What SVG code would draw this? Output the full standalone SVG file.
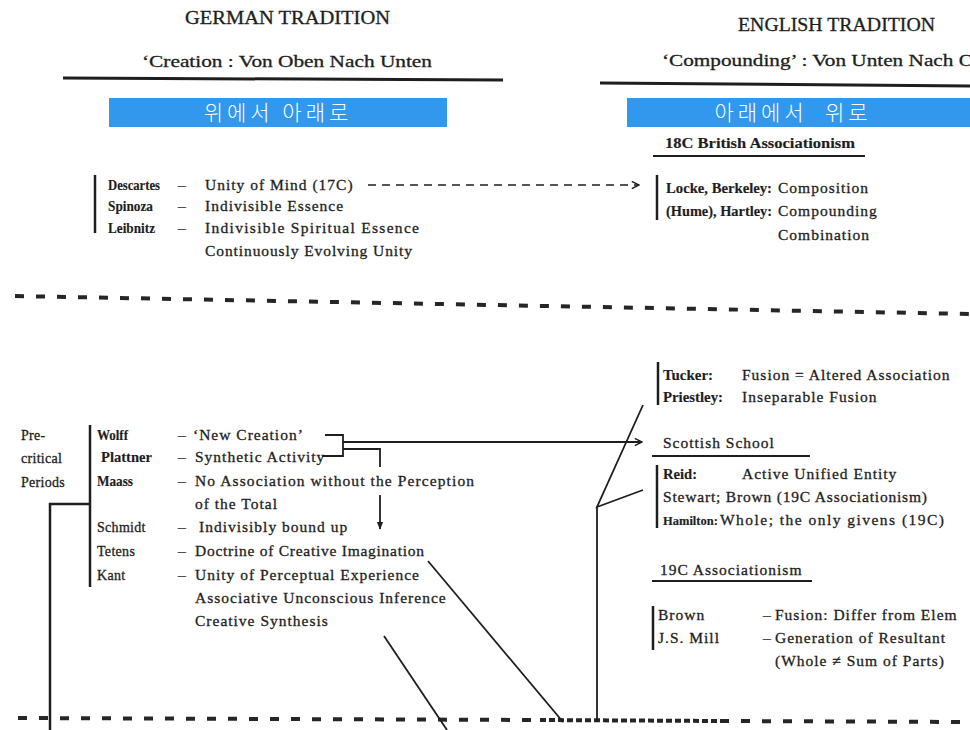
<svg xmlns="http://www.w3.org/2000/svg" width="970" height="730" viewBox="0 0 970 730">
  <defs>
    <style>
      .t{font-family:"Liberation Serif","Times New Roman",serif;fill:#1e1e1e;stroke:#1e1e1e;stroke-width:0.3px;font-size:15.5px;letter-spacing:1px}
      .n{font-weight:bold;font-size:14.5px;letter-spacing:0;stroke-width:0.15px}
      .h{font-size:19px;letter-spacing:0}
      .sub{font-size:17px;letter-spacing:0}
      .sm{font-size:14px;letter-spacing:0.3px}
      .ko{font-family:"Noto Sans CJK KR",sans-serif;font-size:21px;font-weight:300;fill:#fff;text-anchor:middle;letter-spacing:4px}
      .band{fill:#3298ee}
      .bar{stroke:#1e1e1e;stroke-width:2.5;fill:none}
      .ln{stroke:#1e1e1e;stroke-width:1.8;fill:none}
      .ul{stroke:#1e1e1e;stroke-width:2;fill:none}
      .rule{stroke:#1e1e1e;stroke-width:3;fill:none}
      .div{stroke:#262626;stroke-width:4;stroke-dasharray:9 12;fill:none}
      .divd{stroke:#262626;stroke-width:4;stroke-dasharray:6 3;fill:none}
      .dash{stroke:#1e1e1e;stroke-width:1.6;stroke-dasharray:8 6;fill:none}
    </style>
    <marker id="open" viewBox="0 0 10 10" refX="9" refY="5" markerWidth="9" markerHeight="9" markerUnits="userSpaceOnUse" orient="auto">
      <path d="M1,1 L9,5 L1,9" fill="none" stroke="#1e1e1e" stroke-width="1.6"/>
    </marker>
    <marker id="solid" viewBox="0 0 10 10" refX="9" refY="5" markerWidth="8" markerHeight="8" markerUnits="userSpaceOnUse" orient="auto">
      <path d="M0,1 L10,5 L0,9 Z" fill="#1e1e1e"/>
    </marker>
  </defs>
  <rect width="970" height="730" fill="#fff"/>

  <!-- column headings -->
  <g id="german-heading">
    <text class="t h" x="185" y="24" textLength="205" lengthAdjust="spacingAndGlyphs">GERMAN TRADITION</text>
    <text class="t sub" x="142" y="67" textLength="290" lengthAdjust="spacingAndGlyphs">‘Creation : Von Oben Nach Unten</text>
    <path class="rule" d="M63,78 L503,80"/>
    <rect class="band" x="109" y="98" width="338" height="29"/>
    <text class="ko" x="278" y="120">위에서 아래로</text>
  </g>
  <g id="english-heading">
    <text class="t h" x="738" y="31" textLength="197" lengthAdjust="spacingAndGlyphs">ENGLISH TRADITION</text>
    <text class="t sub" x="662" y="66" textLength="312" lengthAdjust="spacingAndGlyphs">‘Compounding’ : Von Unten Nach O</text>
    <path class="rule" d="M600,83 L970,86"/>
    <rect class="band" x="627" y="98" width="343" height="29"/>
    <text class="ko" x="793" y="120" xml:space="preserve">아래에서  위로</text>
  </g>

  <!-- 17C rationalists -->
  <g id="rationalists">
    <path class="bar" d="M95,175 V233"/>
    <text class="t n" x="108" y="190" textLength="52" lengthAdjust="spacingAndGlyphs">Descartes</text>
    <text class="t" x="178" y="190">–</text>
    <text class="t" x="205" y="190">Unity of Mind (17C)</text>
    <text class="t n" x="108" y="211" textLength="45" lengthAdjust="spacingAndGlyphs">Spinoza</text>
    <text class="t" x="178" y="211">–</text>
    <text class="t" x="205" y="211">Indivisible Essence</text>
    <text class="t n" x="108" y="233" textLength="47" lengthAdjust="spacingAndGlyphs">Leibnitz</text>
    <text class="t" x="178" y="233">–</text>
    <text class="t" x="205" y="233" textLength="215">Indivisible Spiritual Essence</text>
    <text class="t" x="205" y="256" textLength="208">Continuously Evolving Unity</text>
  </g>

  <!-- 18C British associationism -->
  <g id="british-associationism">
    <text class="t n" x="665" y="148" textLength="190" lengthAdjust="spacingAndGlyphs">18C British Associationism</text>
    <path class="ul" d="M653,156 H865"/>
    <path class="bar" d="M657,175 V220"/>
    <text class="t n" x="666" y="193" textLength="106" lengthAdjust="spacingAndGlyphs">Locke, Berkeley:</text>
    <text class="t" x="778" y="193">Composition</text>
    <text class="t n" x="666" y="216" textLength="106" lengthAdjust="spacingAndGlyphs">(Hume), Hartley:</text>
    <text class="t" x="778" y="216">Compounding</text>
    <text class="t" x="778" y="240">Combination</text>
  </g>

  <!-- Tucker / Priestley -->
  <g id="fusion">
    <path class="bar" d="M658,362 V405"/>
    <text class="t n" x="663" y="380" textLength="50" lengthAdjust="spacingAndGlyphs">Tucker:</text>
    <text class="t" x="742" y="380">Fusion = Altered Association</text>
    <text class="t n" x="663" y="402" textLength="60" lengthAdjust="spacingAndGlyphs">Priestley:</text>
    <text class="t" x="742" y="402">Inseparable Fusion</text>
  </g>

  <!-- Scottish school -->
  <g id="scottish-school">
    <text class="t" x="663" y="448">Scottish School</text>
    <path class="ul" d="M652,456 H810"/>
    <path class="bar" d="M657,465 V528"/>
    <text class="t n" x="663" y="479" textLength="34" lengthAdjust="spacingAndGlyphs">Reid:</text>
    <text class="t" x="742" y="479">Active Unified Entity</text>
    <text class="t" x="663" y="502" textLength="265">Stewart; Brown (19C Associationism)</text>
    <text class="t" y="525"><tspan class="n" x="663" style="font-size:12.5px">Hamilton:</tspan><tspan x="720" textLength="225">Whole; the only givens (19C)</tspan></text>
  </g>

  <!-- 19C associationism -->
  <g id="associationism-19c">
    <text class="t" x="660" y="575">19C Associationism</text>
    <path class="ul" d="M652,581 H812"/>
    <path class="bar" d="M653,606 V650"/>
    <text class="t" x="658" y="620">Brown</text>
    <text class="t" x="763" y="620">–</text>
    <text class="t" x="775" y="620">Fusion: Differ from Elem</text>
    <text class="t" x="658" y="643">J.S. Mill</text>
    <text class="t" x="763" y="643">–</text>
    <text class="t" x="775" y="643">Generation of Resultant</text>
    <text class="t" x="775" y="666">(Whole ≠ Sum of Parts)</text>
  </g>

  <!-- pre-critical German thinkers -->
  <g id="pre-critical">
    <text class="t sm" x="21" y="440">Pre-</text>
    <text class="t sm" x="21" y="463">critical</text>
    <text class="t sm" x="21" y="487">Periods</text>
    <path class="bar" d="M90,425 V587"/>
    <text class="t n" x="97" y="440" textLength="31" lengthAdjust="spacingAndGlyphs">Wolff</text>
    <text class="t" x="178" y="440">–</text>
    <text class="t" x="193" y="440">‘New Creation’</text>
    <text class="t n" x="101" y="462" textLength="51" lengthAdjust="spacingAndGlyphs">Plattner</text>
    <text class="t" x="178" y="462">–</text>
    <text class="t" x="195" y="462">Synthetic Activity</text>
    <text class="t n" x="97" y="486" textLength="36" lengthAdjust="spacingAndGlyphs">Maass</text>
    <text class="t" x="178" y="486">–</text>
    <text class="t" x="195" y="486" textLength="280">No Association without the Perception</text>
    <text class="t" x="195" y="509">of the Total</text>
    <text class="t sm" x="97" y="532">Schmidt</text>
    <text class="t" x="178" y="532">–</text>
    <text class="t" x="199" y="532">Indivisibly bound up</text>
    <text class="t sm" x="97" y="556">Tetens</text>
    <text class="t" x="178" y="556">–</text>
    <text class="t" x="195" y="556" textLength="230">Doctrine of Creative Imagination</text>
    <text class="t sm" x="97" y="580">Kant</text>
    <text class="t" x="178" y="580">–</text>
    <text class="t" x="195" y="580">Unity of Perceptual Experience</text>
    <text class="t" x="195" y="603">Associative Unconscious Inference</text>
    <text class="t" x="195" y="626">Creative Synthesis</text>
  </g>

  <!-- section dividers -->
  <g id="dividers">
    <path class="div" d="M15,296 L970,314"/>
    <path class="div" d="M18,718 L540,720"/>
    <path class="divd" d="M540,720 L720,721"/>
    <path class="div" d="M720,721 L970,722"/>
  </g>

  <!-- connectors -->
  <g id="connectors">
    <path class="dash" d="M368,185 H639" marker-end="url(#open)"/>
    <path class="ln" d="M325,435 H343 V456 H322"/>
    <path class="ln" d="M343,442 H642" marker-end="url(#open)"/>
    <path class="ln" d="M343,449 H380 V467"/>
    <path class="ln" d="M380,495 V529" marker-end="url(#solid)"/>
    <path class="ln" d="M428,561 L563,722"/>
    <path class="ln" d="M384,636 L447,730"/>
    <path class="ln" d="M643,405 L597,507 L643,490"/>
    <path class="ln" d="M597,507 V722"/>
    <path class="bar" d="M90,504 H50 V730"/>
  </g>
</svg>
